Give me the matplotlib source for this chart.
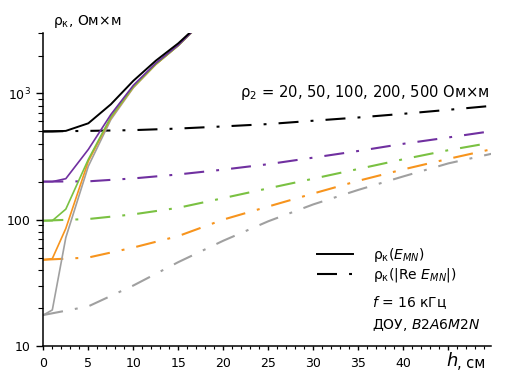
import numpy as np
import matplotlib
matplotlib.use('Agg')
import matplotlib.pyplot as plt
from matplotlib.lines import Line2D
from matplotlib.ticker import FixedLocator, NullFormatter, LogLocator

# ── data ───────────────────────────────────────────────────
rho2 = [500, 200, 100, 50, 20]
colors = ['#000000', '#7030a0', '#7ac142', '#f7941d', '#a0a0a0']

# rho_k(E_MN), solid lines
h_solid = [0, 1, 2.5, 5, 7.5, 10, 12.5, 15, 17.5]
solid_500 = [500, 500, 505, 580, 820, 1260, 1820, 2500, 3650]
solid_200 = [200, 200, 211, 360, 680, 1160, 1740, 2420, 3600]
solid_100 = [98, 98, 121, 300, 650, 1130, 1710, 2400, 3600]
solid_50 = [48, 49, 85, 290, 640, 1120, 1700, 2400, 3600]
solid_20 = [17.5, 19.2, 72, 265, 620, 1110, 1700, 2400, 3600]

# rho_k(|Re E_MN|), dash-dot lines
h_dd = [0, 5, 10, 15, 20, 25, 30, 35, 40, 45, 50]
dd_500 = [500, 505, 512, 527, 548, 572, 608, 645, 690, 742, 800]
dd_200 = [200, 201, 212, 228, 249, 275, 310, 350, 399, 448, 505]
dd_100 = [98, 101, 110, 124, 148, 177, 211, 252, 301, 355, 410]
dd_50 = [48, 50, 60, 74, 100, 127, 161, 203, 250, 303, 364]
dd_20 = [17.5, 20.5, 30, 46, 68, 97, 132, 172, 220, 279, 335]

solids = [solid_500, solid_200, solid_100, solid_50, solid_20]
dashdots = [dd_500, dd_200, dd_100, dd_50, dd_20]

x_ticks = [0, 5, 10, 15, 20, 25, 30, 35, 40, 45]
x_labels = ['0', '5', '10', '15', '20', '25', '30', '35', '40', '']

plt.rcParams['font.family'] = ['DejaVu Sans']
plt.rcParams['mathtext.fontset'] = 'dejavusans'

DD = (0, (9.6, 5.8, 1.4, 5.8))
FS = 10

fig = plt.figure(figsize=(5.09, 3.81), dpi=100)
ax = fig.add_axes([0.0851, 0.0927, 0.964 - 0.0851, 0.9126 - 0.0927])

# dash-dot first, solid on top; black last
for i in reversed(range(len(rho2))):
    ax.plot(h_dd, dashdots[i], color=colors[i], lw=1.5, linestyle=DD,
            dash_capstyle='butt')
for i in reversed(range(len(rho2))):
    ax.plot(h_solid, solids[i], color=colors[i], lw=1.2 if i else 1.4)

ax.set_yscale('log')
ax.set_xlim(0, 49.7)
ax.set_ylim(10, 3000)

ax.set_xticks(x_ticks)
ax.set_xticklabels(x_labels)
ax.xaxis.set_minor_locator(FixedLocator(np.arange(0, 50, 1)))

ax.yaxis.set_major_locator(FixedLocator([10, 100, 1000]))
ax.set_yticklabels(['10', '100', r'10$^3$'])
ax.yaxis.set_minor_locator(LogLocator(base=10, subs=np.arange(2, 10)))
ax.yaxis.set_minor_formatter(NullFormatter())

ax.tick_params(axis='x', which='major', direction='out', length=3, width=1.0,
               pad=5, labelsize=9)
ax.tick_params(axis='x', which='minor', direction='out', length=1.8, width=0.8)
ax.tick_params(axis='y', which='major', direction='out', length=5, width=1.0,
               pad=4, labelsize=9)
ax.tick_params(axis='y', which='minor', direction='out', length=3.5, width=0.8)

for s in ['top', 'right']:
    ax.spines[s].set_visible(False)
for s in ['left', 'bottom']:
    ax.spines[s].set_linewidth(1.1)

# texts
fig.text(53 / 509, 1 - 22 / 381, r'ρ$_\mathrm{к}$, Ом×м', fontsize=FS,
         ha='left', va='center')
fig.text(489 / 509, 1 - 92 / 381,
         r'ρ$_2$ = 20, 50, 100, 200, 500 Ом×м', fontsize=10.6,
         ha='right', va='center')

handles = [Line2D([], [], color='k', lw=1.4),
           Line2D([], [], color='k', lw=1.5, linestyle=DD,
                  dash_capstyle='butt')]
labels = [r'ρ$_\mathrm{к}$($E_{MN}$)', r'ρ$_\mathrm{к}$(|Re $E_{MN}$|)']
fig.legend(handles, labels, loc='upper left',
           bbox_to_anchor=(317 / 509, 1 - 246 / 381), frameon=False,
           fontsize=FS, handlelength=2.6, handletextpad=1.4,
           labelspacing=0.15, borderpad=0, borderaxespad=0)

fig.text(372 / 509, 1 - 303 / 381, r'$f$ = 16 кГц', fontsize=FS,
         ha='left', va='center')
fig.text(372 / 509, 1 - 325 / 381, r'ДОУ, $\mathit{B2A6M2N}$', fontsize=FS,
         ha='left', va='center')

fig.text(446 / 509, 1 - 361 / 381, r'$h$', fontsize=13, ha='left',
         va='center')
fig.text(457 / 509, 1 - 363 / 381, ', см', fontsize=10.5, ha='left',
         va='center')

fig.savefig('out.png', dpi=100)
